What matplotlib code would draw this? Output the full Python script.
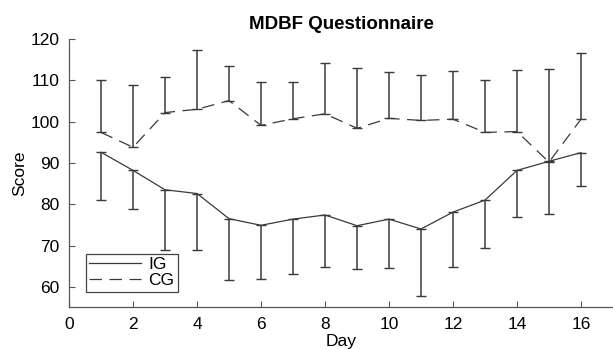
import matplotlib.pyplot as plt
import numpy as np
from matplotlib.lines import Line2D

plt.rcParams['font.family'] = ['Liberation Sans', 'DejaVu Sans']

# days of measurement
days = np.arange(1, 17)
# intervention group: mean and lower end of error bar
ig_mean = [92.6, 88.2, 83.5, 82.6, 76.5, 74.9, 76.4, 77.4, 74.8, 76.4, 74.0, 78.1, 81.0, 88.2, 90.4, 92.5]
ig_low = [81.1, 78.9, 69.0, 68.8, 61.6, 61.8, 63.2, 64.9, 64.2, 64.6, 57.7, 64.7, 69.5, 77.0, 77.7, 84.3]
# control group: mean and upper end of error bar
cg_mean = [97.4, 93.8, 102.2, 103.0, 105.1, 99.1, 100.7, 101.9, 98.4, 100.8, 100.3, 100.6, 97.4, 97.6, 90.2, 100.6]
cg_high = [110.1, 108.9, 110.7, 117.3, 113.6, 109.6, 109.6, 114.1, 113.0, 112.0, 111.3, 112.2, 110.0, 112.5, 112.8, 116.6]

ig_mean = np.array(ig_mean)
cg_mean = np.array(cg_mean)
ig_err = [ig_mean - np.array(ig_low), np.zeros(len(days))]
cg_err = [np.zeros(len(days)), np.array(cg_high) - cg_mean]

col = '#3a3a3a'
dash = (0, (10, 6))
fig = plt.figure(figsize=(6.13, 3.49), dpi=100)
ax = fig.add_axes([0.1126, 0.119, 0.8874, 0.769])

ax.errorbar(days, ig_mean, yerr=ig_err, color=col, lw=0.9, elinewidth=1.1,
            capsize=3.5, capthick=1.0)
ax.errorbar(days, cg_mean, yerr=cg_err, color=col, lw=0.9, elinewidth=1.1,
            capsize=3.5, capthick=1.0, ls=dash)

ax.set_xlim(0, 17)
ax.set_ylim(55, 120)
ax.set_xticks(np.arange(0, 17, 2))
ax.set_yticks(np.arange(60, 121, 10))
ax.spines['top'].set_visible(False)
ax.spines['right'].set_visible(False)
for s in ['left', 'bottom']:
    ax.spines[s].set_color('#555555')
    ax.spines[s].set_linewidth(0.9)
ax.tick_params(direction='in', length=4, labelsize=12.5, color='#555555')
ax.tick_params(axis='x', pad=7)
ax.tick_params(axis='y', pad=7)

ax.set_xlabel('Day', fontsize=12.5, labelpad=1)
ax.set_ylabel('Score', fontsize=12.5, labelpad=2)
ax.set_title('MDBF Questionnaire', fontsize=13.5, fontweight='bold', pad=7)

handles = [Line2D([], [], color=col, lw=0.9),
           Line2D([], [], color=col, lw=0.9, ls=dash)]
leg = ax.legend(handles, ['IG', 'CG'], loc='lower left', bbox_to_anchor=(0.031, 0.058),
                borderaxespad=0, fontsize=12.5, fancybox=False, edgecolor='#444444',
                handlelength=3.0, borderpad=0.2, labelspacing=0.05, handletextpad=0.4,
                framealpha=1)
leg.get_frame().set_linewidth(0.9)

fig.savefig('out.png', dpi=100)
